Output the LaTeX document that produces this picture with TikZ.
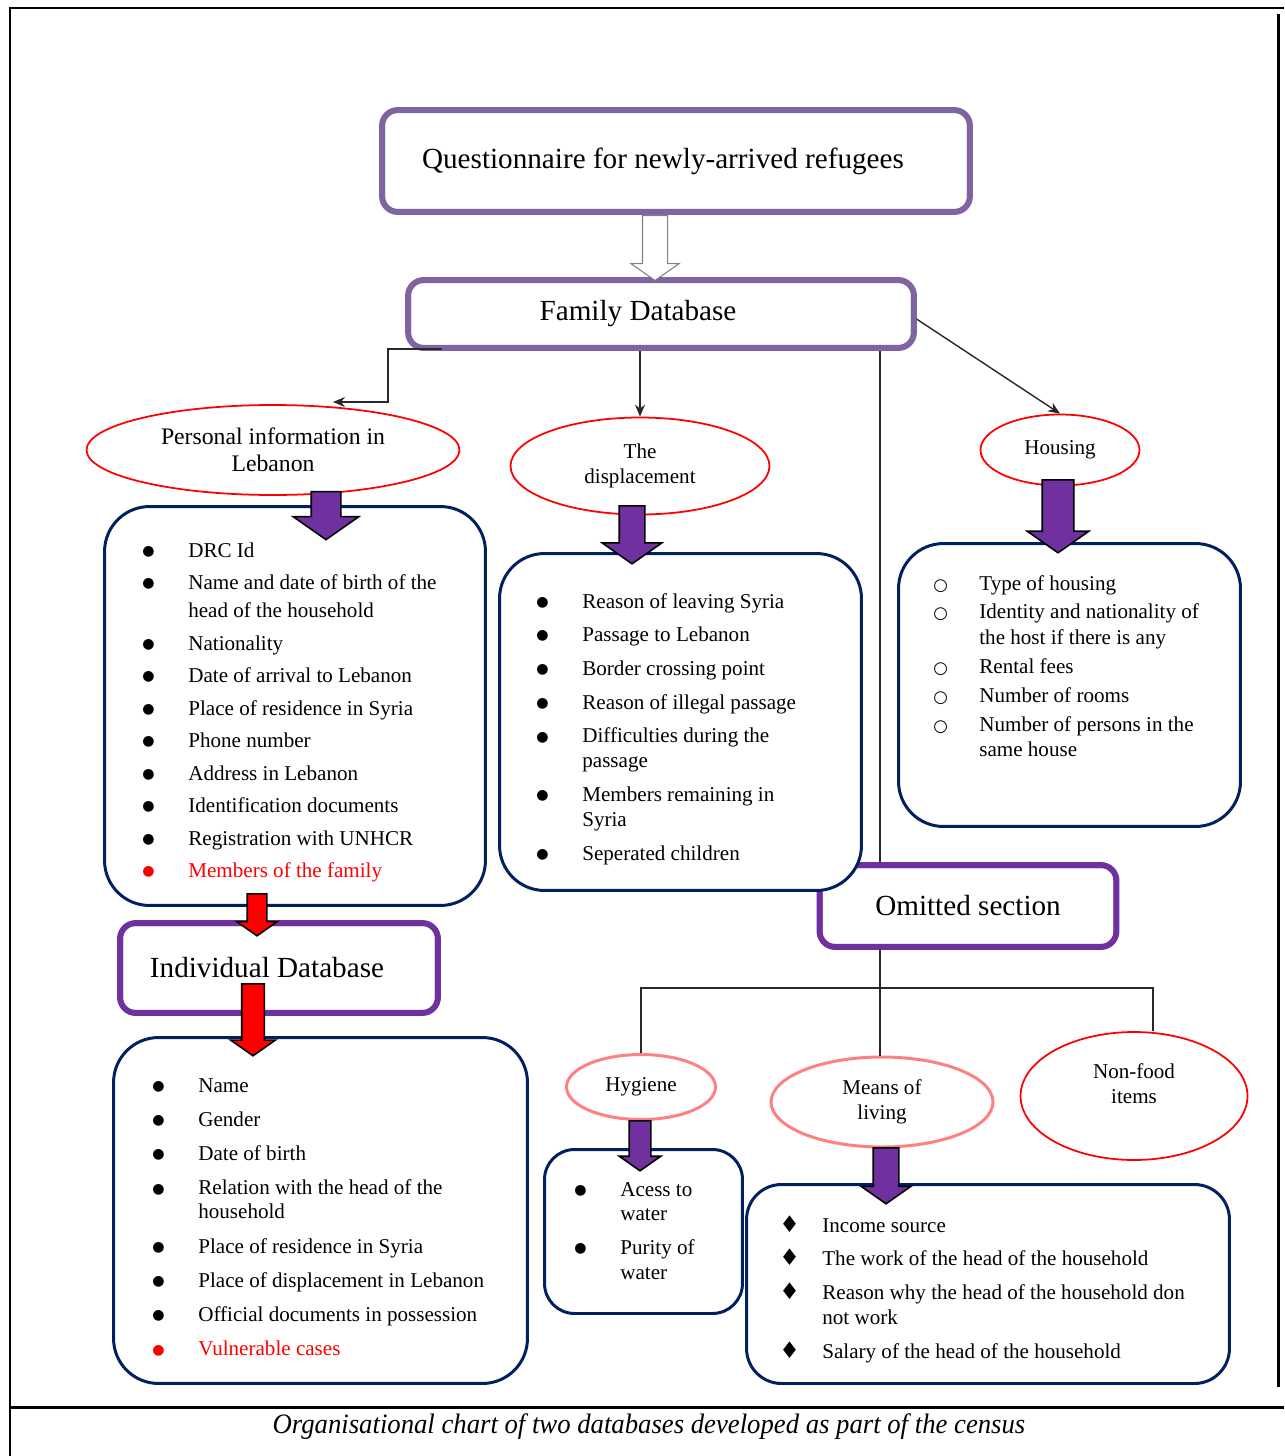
\documentclass[tikz,border=0pt]{standalone}
\usepackage{fontspec}
\setmainfont{Liberation Serif}
\newfontfamily\symbfont{DejaVu Sans}
\usetikzlibrary{shapes.geometric, shapes.arrows, arrows.meta, positioning, calc}
\definecolor{cPurple}{RGB}{112,48,160}
\definecolor{cLilac}{RGB}{128,100,162}
\definecolor{cNavy}{RGB}{0,32,96}
\definecolor{cRed}{RGB}{255,0,0}
\definecolor{cPink}{RGB}{255,128,128}
\definecolor{cLine}{RGB}{40,40,40}
\newcommand{\bul}{\raisebox{1pt}{\symbfont\fontsize{8}{8}\selectfont ●}}
\newcommand{\hollowbul}{{\symbfont\fontsize{9.5}{9.5}\selectfont ○}}
\newcommand{\diabul}{{\symbfont\fontsize{13}{13}\selectfont ♦}}
\tikzset{
	dbbox/.style   ={rectangle, rounded corners=9pt, draw=cPurple, line width=3.4pt, fill=white, align=center, font=\fontsize{16.6}{20}\selectfont},
	dbinner/.style ={draw=cPurple, line width=0.9pt, rounded corners=6pt},
	listbox/.style ={rectangle, rounded corners=0.9cm, draw=cNavy, line width=1.7pt, fill=white},
	topic/.style   ={ellipse, draw=cRed, line width=1pt, fill=white, inner sep=0pt, align=center, font=\fontsize{12}{14.2}\selectfont},
	subtopic/.style={ellipse, draw=cPink, line width=1.7pt, fill=white, inner sep=0pt, align=center, font=\fontsize{12}{14}\selectfont},
	fatarrow/.style={single arrow, shape border rotate=270, draw=black, line width=0.9pt, single arrow tip angle=110, anchor=tail},
	conn/.style    ={draw=cLine, line width=0.8pt, -{Stealth[length=2.4mm, width=2mm]}},
	branch/.style  ={draw=cLine, line width=0.8pt},
	frame/.style   ={black, line width=1.7pt},
	items/.style   ={anchor=base west, inner sep=0pt},
}

\begin{document}
\begin{tikzpicture}[x=0.02cm, y=-0.02cm]
	\useasboundingbox (0,0) rectangle (1284,1456);
	% frame and caption rule
	\draw[frame] (10,1456) -- (10,8) -- (1284,8);
	\draw[frame] (1278,14) -- (1278,1387);
	\draw[frame] (10,1407) -- (1284,1407);
	\node[font=\fontsize{16}{18}\selectfont\itshape] (cap) at (649,1427)
		{\scalebox{0.95}[1]{Organisational chart of two databases developed as part of the census}};

	% database boxes
	\node[dbbox, draw=cLilac, minimum width=11.76cm, minimum height=2.04cm] (quest) at (676,161) {Questionnaire for newly-arrived refugees\hspace*{0.52cm}};
	\node[dbbox, draw=cLilac, minimum width=10.12cm, minimum height=1.36cm] (family) at (661,314) {Family Database\hspace*{0.92cm}};
	\node[dbbox, minimum width=6.36cm, minimum height=1.8cm] (indiv) at (279,968) {Individual Database\hspace*{0.48cm}};
	\node[dbbox, minimum width=5.94cm, minimum height=1.64cm] (omit) at (968,906) {Omitted section};
	\foreach \b/\c in {quest/cLilac, family/cLilac, indiv/cPurple, omit/cPurple}
		\draw[dbinner, draw=\c] ([shift={(3pt,3pt)}]\b.south west) rectangle ([shift={(-3pt,-3pt)}]\b.north east);

	% topics
	\node[topic, minimum width=7.46cm, minimum height=1.8cm, font=\fontsize{13.5}{15.4}\selectfont] (pers) at (273,450) {Personal information in\\Lebanon};
	\node[topic, minimum width=5.18cm, minimum height=1.94cm] (disp) at (640,466) {The\\displacement};
	\node[topic, minimum width=3.18cm, minimum height=1.42cm] (hous) at (1060,450) {Housing};
	\node[subtopic, minimum width=2.98cm, minimum height=1.3cm] (hyg) at (641,1087) {Hygiene};
	\node[subtopic, minimum width=4.44cm, minimum height=1.8cm] (means) at (882,1102) {Means of\\living};
	\node[topic, minimum width=4.54cm, minimum height=2.56cm] (nonf) at (1134,1096) {Non-food\\items\\\mbox{}};

	% list boxes
	\node[listbox, minimum width=7.62cm, minimum height=7.98cm] (plist) at (295,706) {};
	\node[listbox, minimum width=7.24cm, minimum height=6.74cm] (dlist) at (680.5,722) {};
	\node[listbox, minimum width=6.84cm, minimum height=5.66cm] (hlist) at (1069.5,685) {};
	\node[listbox, minimum width=8.28cm, minimum height=6.92cm] (ilist) at (320.5,1210.5) {};
	\node[listbox, rounded corners=0.6cm, minimum width=3.96cm, minimum height=3.28cm] (glist) at (643.5,1231.5) {};
	\node[listbox, rounded corners=0.7cm, minimum width=9.66cm, minimum height=3.98cm] (mlist) at (988,1284) {};

	\node[items, font=\fontsize{12}{16}\selectfont] (pitems) at (142,557) {\begin{tabular}[t]{@{}p{0.92cm}@{}l@{}}
		\bul & DRC Id\\[2.5pt]
		\bul & Name and date of birth of the\\
		     & head of the household\\[2.5pt]
		\bul & Nationality\\[2.5pt]
		\bul & Date of arrival to Lebanon\\[2.5pt]
		\bul & Place of residence in Syria\\[2.5pt]
		\bul & Phone number\\[2.5pt]
		\bul & Address in Lebanon\\[2.5pt]
		\bul & Identification documents\\[2.5pt]
		\bul & Registration with UNHCR\\[2.5pt]
		\textcolor{cRed}{\bul} & \textcolor{cRed}{Members of the family}
	\end{tabular}};
	\node[items, font=\fontsize{12}{14.2}\selectfont] (ditems) at (536,608) {\begin{tabular}[t]{@{}p{0.92cm}@{}l@{}}
		\bul & Reason of leaving Syria\\[5pt]
		\bul & Passage to Lebanon\\[5pt]
		\bul & Border crossing point\\[5pt]
		\bul & Reason of illegal passage\\[5pt]
		\bul & Difficulties during the\\
		     & passage\\[5pt]
		\bul & Members remaining in\\
		     & Syria\\[5pt]
		\bul & Seperated children
	\end{tabular}};
	\node[items, font=\fontsize{12}{14.5}\selectfont] (hitems) at (933,590) {\begin{tabular}[t]{@{}p{0.92cm}@{}l@{}}
		\hollowbul & Type of housing\\[2pt]
		\hollowbul & Identity and nationality of\\
		           & the host if there is any\\[2pt]
		\hollowbul & Rental fees\\[2pt]
		\hollowbul & Number of rooms\\[2pt]
		\hollowbul & Number of persons in the\\
		           & same house
	\end{tabular}};
	\node[items, font=\fontsize{12}{13.7}\selectfont] (iitems) at (152,1092) {\begin{tabular}[t]{@{}p{0.92cm}@{}l@{}}
		\bul & Name\\[5.8pt]
		\bul & Gender\\[5.8pt]
		\bul & Date of birth\\[5.8pt]
		\bul & Relation with the head of the\\
		     & household\\[5.8pt]
		\bul & Place of residence in Syria\\[5.8pt]
		\bul & Place of displacement in Lebanon\\[5.8pt]
		\bul & Official documents in possession\\[5.8pt]
		\textcolor{cRed}{\bul} & \textcolor{cRed}{Vulnerable cases}
	\end{tabular}};
	\node[items, font=\fontsize{12}{14}\selectfont] (gitems) at (574,1196) {\begin{tabular}[t]{@{}p{0.92cm}@{}l@{}}
		\bul & Acess to\\
		     & water\\[5.3pt]
		\bul & Purity of\\
		     & water
	\end{tabular}};
	\node[items, font=\fontsize{12}{14.2}\selectfont] (mitems) at (779,1232) {\begin{tabular}[t]{@{}p{0.86cm}@{}l@{}}
		\diabul & Income source\\[5pt]
		\diabul & The work of the head of the household\\[5pt]
		\diabul & Reason why the head of the household don\\
		        & not work\\[5pt]
		\diabul & Salary of the head of the household
	\end{tabular}};

	% connectors
	\coordinate (pin) at (333,402);
	\draw[conn] ($(family.south west)+(37,-2)$) -| (388,402) -- (pin);
	\draw[conn] (family.south -| disp.north) -- (disp.north);
	\draw[conn] ([yshift=-3pt]family.east) -- (hous.north);
	\draw[branch] (family.south -| 880,0) -- (omit.north -| 880,0);
	\draw[branch] (omit.south -| 880,0) -- (means.north -| 880,0);
	\draw[branch] (hyg.north) |- (1153,988) -- (1153,988 |- nonf.north);

	% block arrows
	\node[fatarrow, fill=white, draw=gray, line width=0.6pt, inner sep=0.24cm, minimum width=0.94cm, minimum height=1.3cm, single arrow head extend=0.23cm] (qarrow) at (quest.south -| 655,0) {};
	\node[fatarrow, fill=cPurple, inner sep=0.28cm, minimum width=1.28cm, minimum height=0.96cm, single arrow head extend=0.36cm] (parrow) at ($(pers.south)+(53,-5)$) {};
	\node[fatarrow, fill=cPurple, inner sep=0.24cm, minimum width=1.16cm, minimum height=1.16cm, single arrow head extend=0.34cm] (darrow) at (632,505) {};
	\node[fatarrow, fill=cPurple, inner sep=0.3cm, minimum width=1.2cm, minimum height=1.46cm, single arrow head extend=0.3cm] (harrow) at (1058,479) {};
	\node[fatarrow, fill=cRed, inner sep=0.18cm, minimum width=0.78cm, minimum height=0.84cm, single arrow head extend=0.21cm] (iarrow1) at (257,893) {};
	\node[fatarrow, fill=cRed, inner sep=0.21cm, minimum width=0.86cm, minimum height=1.44cm, single arrow head extend=0.22cm] (iarrow2) at (253,983) {};
	\node[fatarrow, fill=cPurple, inner sep=0.2cm, minimum width=0.8cm, minimum height=1.0cm, single arrow head extend=0.2cm] (garrow) at (640,1120) {};
	\node[fatarrow, fill=cPurple, inner sep=0.24cm, minimum width=0.96cm, minimum height=1.12cm, single arrow head extend=0.24cm] (marrow) at (886,1147) {};
\end{tikzpicture}
\end{document}
